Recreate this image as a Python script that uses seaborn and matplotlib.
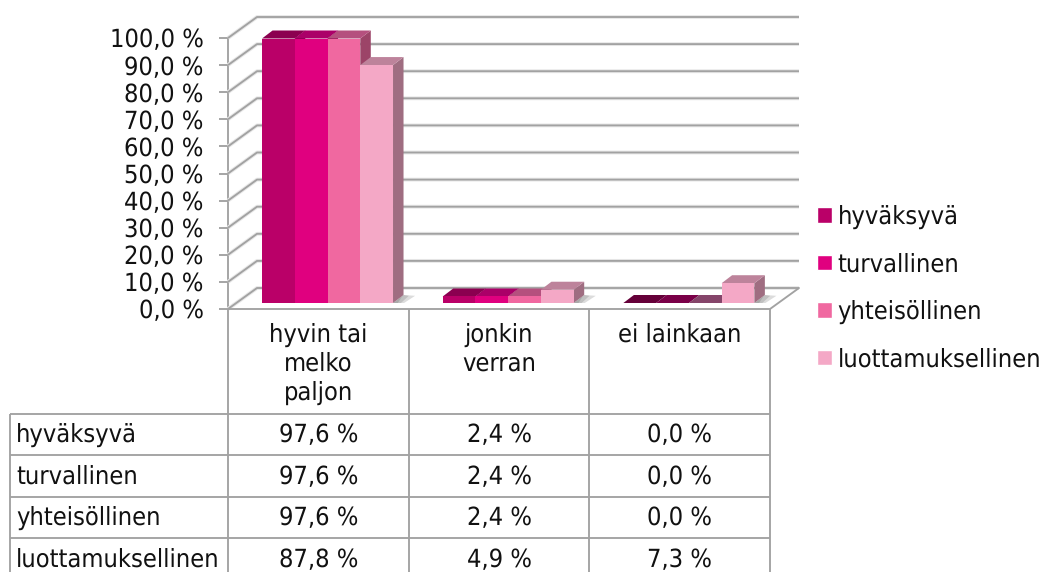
import matplotlib
matplotlib.use("Agg")
import matplotlib.pyplot as plt
import matplotlib.colors as mcolors
import pandas as pd
import seaborn as sns
from matplotlib.patches import Polygon

categories = ["hyvin tai\nmelko\npaljon", "jonkin\nverran", "ei lainkaan"]
series_names = ["hyväksyvä", "turvallinen", "yhteisöllinen", "luottamuksellinen"]
hyvaksyva = [97.6, 2.4, 0.0]
turvallinen = [97.6, 2.4, 0.0]
yhteisollinen = [97.6, 2.4, 0.0]
luottamuksellinen = [87.8, 4.9, 7.3]
palette = ["#BA0068", "#E0007F", "#F068A0", "#F4A8C6"]
y_ticks = [0, 10, 20, 30, 40, 50, 60, 70, 80, 90, 100]

W, H = 1043, 572
FS = 18.2
GRID = "#a2a2a2"
LW = 1.35

sns.set_style("white")
plt.rcParams["font.family"] = ["DejaVu Sans"]
plt.rcParams["font.stretch"] = "condensed"
plt.rcParams["text.hinting"] = "no_hinting"
fig = plt.figure(figsize=(W / 100, H / 100), dpi=100, facecolor="white")


def box(x0, x1, ytop, ybot):
    return [x0 / W, 1 - ybot / H, (x1 - x0) / W, (ybot - ytop) / H]


# pixel overlay: data table rules and text
ov = fig.add_axes([0, 0, 1, 1], zorder=0)
ov.set_xlim(0, W)
ov.set_ylim(H, 0)
ov.axis("off")

# front plane of the chart
ax = fig.add_axes(box(228, 770, 38, 309), zorder=1)
ax.patch.set_alpha(0)
ax.set_xlim(-0.5, 2.5)
ax.set_ylim(0, 100)
for s in ax.spines.values():
    s.set_visible(False)
ax.set_xticks([])
ax.set_yticks(y_ticks)
ax.set_yticklabels([f"{v:.1f} %".replace(".", ",") for v in y_ticks], fontsize=FS, color="#111111")
ax.tick_params(axis="y", length=6.5, width=LW, color=GRID, pad=11, left=True)

px_x = 3 / 542
px_y = 100 / 271
wall_dx = 29 * px_x
wall_dy = 21 * px_y
for v in y_ticks:
    xs = [-0.5, -0.5 + wall_dx, 2.5 + wall_dx]
    ys = [v, v + wall_dy, v + wall_dy]
    ax.plot(xs, ys, color="#e8e8e8", lw=2.8, clip_on=False, zorder=1, solid_capstyle="butt")
    ax.plot(xs, ys, color=GRID, lw=LW, clip_on=False, zorder=2, solid_capstyle="butt")
ax.plot([-0.5, 2.5, 2.5 + wall_dx], [0, 0, wall_dy], color=GRID, lw=LW, clip_on=False, zorder=2)

# bars
df = pd.DataFrame({
    "kategoria": categories * 4,
    "sarja": [n for n in series_names for _ in categories],
    "arvo": hyvaksyva + turvallinen + yhteisollinen + luottamuksellinen,
})
bx = fig.add_axes(box(237.2, 779.2, 32, 303), zorder=2)
bx.patch.set_alpha(0)
sns.barplot(data=df, x="kategoria", y="arvo", hue="sarja", order=categories,
            hue_order=series_names, palette=palette, width=0.725, gap=0,
            saturation=1, errorbar=None, ax=bx)
handles, labels = bx.get_legend_handles_labels()
if bx.get_legend():
    bx.get_legend().remove()
bx.set_xlim(-0.5, 2.5)
bx.set_ylim(0, 100)
bx.axis("off")

dx = 10.5 * px_x
dy = 8 * px_y


def scale(color, f):
    r, g, b = mcolors.to_rgb(color)
    return (r * f, g * f, b * f)


top_colors = ["#8B0050", "#AB0068", "#B5507E", "#BD839B"]
top_zero = ["#650039", "#7A0048", "#85456A", "#85456A"]
side_colors = [scale(c, 0.65) for c in palette]

for si, cont in enumerate(bx.containers):
    for ci, p in enumerate(cont.patches):
        x0, w, h = p.get_x(), p.get_width(), p.get_height()
        x1 = x0 + w
        z = 3 + si * 0.1
        p.set_zorder(z + 0.02)
        p.set_linewidth(0)
        side = Polygon([(x1, 0), (x1 + dx, dy), (x1 + dx, h + dy), (x1, h)],
                       facecolor=side_colors[si], lw=0, zorder=z, clip_on=False)
        top = Polygon([(x0, h), (x0 + dx, h + dy), (x1 + dx, h + dy), (x1, h)],
                      facecolor=top_zero[si] if h == 0 else top_colors[si],
                      lw=0, zorder=z + 0.01, clip_on=False)
        bx.add_patch(side)
        bx.add_patch(top)
        if si == len(series_names) - 1:
            for k in (0.9, 1.5, 2.1):
                bx.add_patch(Polygon([(x1, 0), (x1 + dx, dy), (x1 + k * dx, dy * 0.9), (x1 + 0.5 * k * dx, 0)],
                                     facecolor="#505050", alpha=0.2, lw=0, zorder=2.5, clip_on=False))

# legend
fig.legend(handles, labels, loc="upper left", bbox_to_anchor=(817 / W, 1 - 205 / H),
           frameon=False, fontsize=FS, handlelength=0.59, handleheight=0.59,
           handletextpad=0.22, labelspacing=0.92, borderpad=0, borderaxespad=0,
           labelcolor="#111111")

# data table
cols = [228, 408.7, 589.3, 770]
rows = [414, 455, 497, 538]
for x in cols:
    ov.plot([x, x], [309 if x != 228 else 38, H], color=GRID, lw=LW, solid_capstyle="butt")
ov.plot([10, 10], [414, H], color=GRID, lw=LW, solid_capstyle="butt")
for y in rows:
    ov.plot([10, 770], [y, y], color=GRID, lw=LW, solid_capstyle="butt")

for i, c in enumerate(categories):
    ov.text((cols[i] + cols[i + 1]) / 2, 323, c, ha="center", va="top", fontsize=FS,
            color="#111111", linespacing=1.25)
table_rows = [hyvaksyva, turvallinen, yhteisollinen, luottamuksellinen]
row_y = [435, 477, 518, 560]
for name, vals, y in zip(series_names, table_rows, row_y):
    ov.text(16, y, name, ha="left", va="center", fontsize=FS, color="#111111")
    for i, v in enumerate(vals):
        ov.text((cols[i] + cols[i + 1]) / 2, y, f"{v:.1f} %".replace(".", ","),
                ha="center", va="center", fontsize=FS, color="#111111")

fig.savefig("out.png", dpi=100, facecolor="white")
